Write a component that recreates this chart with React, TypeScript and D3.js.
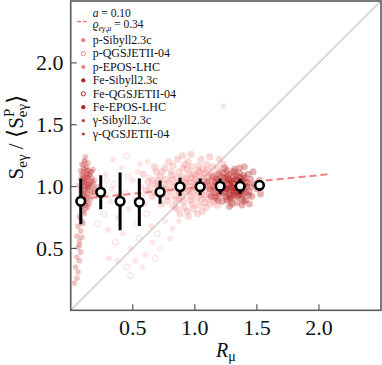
import React from "react";
import * as d3 from "d3";

// ---- data ----
const binR = [0.081, 0.242, 0.398, 0.553, 0.72, 0.881, 1.043, 1.204, 1.365, 1.521];
const binS = [0.881, 0.954, 0.881, 0.873, 0.956, 0.998, 0.998, 1.002, 1.002, 1.01];
const binErr = [0.185, 0.138, 0.233, 0.192, 0.094, 0.074, 0.067, 0.063, 0.06, 0.043];

const fitA = 0.10;
const fitB = 0.892;
const fitRange = [0.16, 2.1];

const xTicks = [0.5, 1.0, 1.5, 2.0];
const yTicks = [0.5, 1.0, 1.5, 2.0];

const legendLabels = [
  "p-Sibyll2.3c", "p-QGSJETII-04", "p-EPOS-LHC",
  "Fe-Sibyll2.3c", "Fe-QGSJETII-04", "Fe-EPOS-LHC",
  "γ-Sibyll2.3c", "γ-QGSJETII-04",
];

// gamma showers (R, S pairs)
const gammaPts = [
  0.10,1.02, 0.12,0.98, 0.09,1.10, 0.14,1.05, 0.11,0.93, 0.13,1.13, 0.08,0.96, 0.15,0.99, 0.10,1.17, 0.12,1.08,
  0.09,0.89, 0.14,0.91, 0.11,1.21, 0.16,1.04, 0.07,1.01, 0.13,0.87, 0.10,0.95, 0.12,1.15, 0.15,1.10, 0.08,1.06,
  0.11,1.00, 0.14,0.97, 0.09,0.84, 0.12,0.90, 0.10,1.12, 0.13,1.01, 0.17,0.95, 0.08,0.92, 0.11,1.07, 0.15,0.86,
  0.09,1.18, 0.12,1.24, 0.14,1.19, 0.10,0.80, 0.13,0.95, 0.11,0.88, 0.16,1.12, 0.07,0.88, 0.12,1.03, 0.14,1.08,
  0.09,0.99, 0.10,1.06, 0.13,1.10, 0.11,0.97, 0.15,1.02, 0.08,1.13, 0.12,0.85, 0.10,0.91, 0.14,1.00, 0.17,1.07,
  0.18,1.02, 0.19,0.98, 0.17,1.12, 0.20,0.93, 0.19,1.05, 0.16,0.90, 0.21,1.00, 0.18,1.14, 0.13,1.16, 0.11,1.04,
  0.07,0.76, 0.09,0.72, 0.06,0.68, 0.08,0.64, 0.10,0.70, 0.05,0.60, 0.07,0.56, 0.09,0.59, 0.06,0.51, 0.08,0.47,
  0.05,0.43, 0.07,0.40, 0.04,0.35, 0.06,0.31, 0.05,0.26, 0.03,0.22, 0.11,0.78, 0.08,0.74, 0.12,0.82, 0.07,0.53,
  0.115,1.05, 0.135,0.99, 0.105,0.94, 0.125,1.11, 0.145,1.02, 0.095,1.03, 0.155,0.94, 0.125,0.92, 0.135,1.07, 0.105,1.14,
  0.165,1.00, 0.145,1.13, 0.085,0.99, 0.115,0.86, 0.175,1.04, 0.095,1.09, 0.155,1.09, 0.135,0.83, 0.115,1.20, 0.185,0.96,
];

// proton showers
const protonPts = [
  0.85,1.02, 0.88,0.95, 0.90,1.08, 0.92,0.99, 0.95,1.04, 0.97,0.92, 0.99,1.10, 1.01,0.97, 1.03,1.03, 1.05,0.94,
  1.07,1.07, 1.09,1.00, 1.11,0.90, 1.13,1.05, 1.15,0.98, 1.17,1.09, 1.19,0.95, 1.21,1.02, 0.87,1.12, 0.91,0.88,
  0.94,1.14, 0.96,1.00, 0.98,0.86, 1.00,1.06, 1.02,0.91, 1.04,1.12, 1.06,1.01, 1.08,0.87, 1.10,1.13, 1.12,0.96,
  1.14,1.01, 1.16,0.91, 1.18,1.04, 1.20,0.99, 1.22,1.08, 0.84,0.93, 0.89,1.05, 0.93,0.96, 0.97,1.07, 1.00,1.00,
  1.04,0.98, 1.08,1.04, 1.12,1.00, 1.16,1.06, 0.86,0.98, 0.90,1.01, 0.95,0.97, 1.01,1.09, 1.06,0.97, 1.11,1.08,
  1.15,0.93, 1.19,1.00, 1.24,0.96, 0.82,1.06, 0.80,0.97, 0.92,1.18, 1.03,1.17, 1.14,1.16, 0.99,0.82, 1.09,0.83,
  0.70,1.00, 0.72,1.08, 0.74,0.93, 0.76,1.15, 0.78,0.88, 0.75,1.02, 0.68,0.95, 0.66,1.05, 0.79,1.20, 0.83,0.84,
  0.86,1.22, 0.94,0.80, 1.05,1.22, 1.18,0.85, 1.26,1.10, 1.28,0.92, 1.23,1.18, 1.30,1.02, 0.81,1.12, 0.77,0.98,
  0.97,1.26, 1.12,1.24, 0.88,0.78, 1.02,0.78, 0.73,0.86, 0.69,1.12, 0.64,0.99, 1.32,0.95, 0.90,1.25, 1.20,1.22,
  0.835,1.00, 0.865,1.07, 0.895,0.92, 0.925,1.03, 0.955,1.10, 0.985,0.95, 1.015,1.02, 1.045,1.08, 1.075,0.93, 1.105,1.03,
  1.135,1.10, 1.165,0.99, 1.195,1.07, 1.225,0.93, 0.875,0.90, 0.905,1.15, 0.935,1.06, 0.965,0.89, 0.995,1.03, 1.025,1.13,
  1.055,0.90, 1.085,1.11, 1.115,0.94, 1.145,1.04, 1.175,0.96, 1.205,1.12, 0.815,1.09, 0.845,0.89, 0.795,1.03, 0.765,1.06,
  0.745,0.98, 0.715,0.94, 0.735,1.12, 0.785,0.92, 0.705,1.05, 0.685,1.02, 0.825,1.17, 0.855,0.82, 0.945,1.20, 1.035,0.85,
  1.095,1.18, 1.155,0.88, 1.245,1.04, 1.275,0.99, 1.255,0.90, 0.915,0.83, 0.975,1.16, 1.065,1.14, 1.125,0.86, 1.185,1.15,
  0.655,0.92, 0.625,1.04, 0.605,0.97, 0.675,1.16, 0.585,1.10, 1.31,1.12, 1.34,1.05, 1.29,0.88, 0.95,0.76, 1.06,0.80,
];

// sparse proton outliers (drawn as open rings and faint dots)
const sparsePts = [
  0.25,0.95, 0.28,1.10, 0.32,0.88, 0.35,1.02, 0.38,0.75, 0.41,1.15, 0.44,0.95, 0.47,0.82, 0.50,1.05, 0.53,0.70,
  0.56,1.18, 0.58,0.92, 0.61,0.78, 0.63,1.08, 0.30,0.65, 0.36,0.55, 0.42,0.62, 0.48,0.50, 0.55,0.58, 0.60,0.45,
  0.34,1.22, 0.45,1.25, 0.52,0.90, 0.40,0.85, 0.27,0.78, 0.62,1.20, 0.57,1.00, 0.22,0.70, 0.65,0.68, 0.66,0.55,
  0.70,0.62, 0.76,0.72, 0.82,0.66, 0.72,0.50, 0.87,0.72, 0.38,0.40, 0.45,0.35, 0.31,0.42, 0.52,0.40, 0.68,0.42,
  0.58,0.35, 0.80,0.58, 0.48,0.28, 1.23,1.65, 0.33,0.98, 0.46,1.08, 0.54,1.12, 0.39,0.93, 0.29,1.05, 0.60,0.86,
];

// iron showers
const ironPts = [
  1.25,1.00, 1.28,0.97, 1.30,1.03, 1.32,0.99, 1.34,1.05, 1.36,0.95, 1.38,1.01, 1.40,0.98, 1.27,1.06, 1.29,0.93,
  1.31,1.08, 1.33,0.96, 1.35,1.02, 1.37,1.07, 1.39,0.94, 1.41,1.04, 1.24,0.95, 1.26,1.03, 1.28,1.10, 1.30,0.91,
  1.32,1.02, 1.34,0.98, 1.36,1.11, 1.38,0.90, 1.40,1.07, 1.42,1.00, 1.23,1.07, 1.25,0.92, 1.27,0.99, 1.29,1.05,
  1.31,0.97, 1.33,1.01, 1.35,0.93, 1.37,1.04, 1.39,1.00, 1.21,1.01, 1.20,0.94, 1.18,1.06, 1.44,0.96, 1.45,1.06,
  1.15,1.00, 1.17,0.91, 1.19,1.10, 1.43,1.10, 1.46,0.92, 1.48,1.02, 1.14,1.08, 1.16,0.95, 1.22,0.88, 1.26,1.13,
  1.34,0.87, 1.41,0.89, 1.47,1.12, 1.50,0.98, 1.12,0.98, 1.36,1.15, 1.30,0.86, 1.24,1.15, 1.44,0.86, 1.52,1.05,
  1.10,1.04, 1.13,0.92, 1.53,0.94, 1.28,0.84, 1.40,1.16, 1.32,1.14, 1.26,0.89, 1.38,0.85,
  1.255,0.98, 1.285,1.02, 1.315,0.95, 1.345,1.00, 1.375,0.97, 1.405,1.02, 1.265,1.08, 1.295,0.99, 1.325,1.06, 1.355,0.97,
  1.385,1.05, 1.415,0.95, 1.235,1.02, 1.275,0.94, 1.305,1.00, 1.335,1.09, 1.365,1.00, 1.395,1.09, 1.425,1.03, 1.245,0.98,
  1.315,1.12, 1.345,0.92, 1.285,0.90, 1.375,0.93, 1.215,0.97, 1.195,1.02, 1.435,0.93, 1.455,1.00, 1.165,1.04, 1.185,0.89,
  1.225,1.11, 1.355,1.08, 1.395,0.88, 1.305,1.04, 1.335,0.99, 1.365,1.03, 1.275,1.04, 1.245,1.07, 1.325,0.93, 1.385,0.98,
];

const toPairs = (a: number[]) => {
  const out: [number, number][] = [];
  for (let i = 0; i + 1 < a.length; i += 2) out.push([a[i], a[i + 1]]);
  return out;
};

const COL_P = "#f08080";
const COL_FE = "#b22222";
const COL_G = "#c23b3b";
const AX = "#5a5a5a";
const FONT = "'Liberation Serif', 'DejaVu Serif', serif";

export default function App() {
  const x = d3.scaleLinear().domain([0, 2.5]).range([70.7, 381]);
  const y = d3.scaleLinear().domain([0, 2.5]).range([310.3, 1]);
  const [x0, x1] = x.range();
  const [y0, y1] = y.range();

  const fitLine = d3.line<number>().x((r) => x(r)).y((r) => y(fitA * r + fitB));

  const legendY0 = 44;
  const legendStep = 13.4;
  const legendStyle = (i: number) => {
    const group = Math.floor(i / 3);
    const color = group === 0 ? COL_P : group === 1 ? COL_FE : COL_G;
    const hollow = legendLabels[i].includes("QGSJET") && group < 2;
    const r = group === 2 ? 1.6 : 2.1;
    return { color, hollow, r };
  };

  return (
    <div style={{ position: "absolute", left: 0, top: 0 }}>
      <svg width={382} height={365} style={{ display: "block" }} fontFamily={FONT}>
        <rect x={0} y={0} width={382} height={365} fill="#fff" />
        <defs>
          <clipPath id="plotclip">
            <rect x={x0} y={y1} width={x1 - x0} height={y0 - y1} />
          </clipPath>
          <filter id="soft" x="-5%" y="-5%" width="110%" height="110%">
            <feGaussianBlur stdDeviation={0.7} />
          </filter>
        </defs>
        <g clipPath="url(#plotclip)">
          {/* diagonal */}
          <line x1={x(0)} y1={y(0)} x2={x(2.5)} y2={y(2.5)} stroke="#cdcdcd" strokeWidth={1.5} />
          {/* scatter */}
          {toPairs(sparsePts).map(([r, s], i) => (
            <circle key={"s" + i} cx={x(r)} cy={y(s)} r={2.8}
              fill={i % 3 === 0 ? "none" : COL_P} fillOpacity={0.2}
              stroke={COL_P} strokeOpacity={i % 3 === 0 ? 0.35 : 0} strokeWidth={0.8} />
          ))}
          <g filter="url(#soft)">
            {toPairs(protonPts).map(([r, s], i) => (
              <circle key={"p" + i} cx={x(r)} cy={y(s)} r={3.6} fill={COL_P} fillOpacity={0.3} />
            ))}
            {toPairs(gammaPts).map(([r, s], i) => (
              <circle key={"g" + i} cx={x(r)} cy={y(s)} r={2.8} fill={COL_G} fillOpacity={0.3} />
            ))}
            {toPairs(ironPts).map(([r, s], i) => (
              <circle key={"f" + i} cx={x(r)} cy={y(s)} r={3.4} fill={COL_FE} fillOpacity={0.34} />
            ))}
          </g>
          {/* fit line */}
          <path d={fitLine(fitRange) || ""} fill="none" stroke={COL_P} strokeWidth={2} strokeDasharray="7,4" />
          {/* binned means */}
          {binR.map((r, i) => (
            <g key={"b" + i}>
              <line x1={x(r)} x2={x(r)} y1={y(binS[i] - binErr[i])} y2={y(binS[i] + binErr[i])}
                stroke="#000" strokeWidth={3} />
              <circle cx={x(r)} cy={y(binS[i])} r={4.3} fill="#fff" stroke="#000" strokeWidth={2.6} />
            </g>
          ))}
        </g>

        {/* frame */}
        <rect x={x0} y={y1} width={x1 - x0} height={y0 - y1} fill="none" stroke={AX} strokeWidth={1.6} />

        {/* ticks */}
        {xTicks.map((t) => (
          <g key={"xt" + t}>
            <line x1={x(t)} x2={x(t)} y1={y0} y2={y0 - 6} stroke={AX} strokeWidth={1.2} />
            <text x={x(t)} y={335} textAnchor="middle" fontSize={22} fill="#111">{t.toFixed(1)}</text>
          </g>
        ))}
        {yTicks.map((t) => (
          <g key={"yt" + t}>
            <line x1={x0} x2={x0 + 6} y1={y(t)} y2={y(t)} stroke={AX} strokeWidth={1.2} />
            <text x={63.5} y={y(t) + 7.5} textAnchor="end" fontSize={22} fill="#111">{t.toFixed(1)}</text>
          </g>
        ))}

        {/* axis labels */}
        <text x={(x0 + x1) / 2} y={357} textAnchor="middle" fontSize={20} fill="#111">
          <tspan fontStyle="italic">R</tspan>
          <tspan fontSize={14} dy={4}>μ</tspan>
        </text>
        <text transform="translate(23,137) rotate(-90)" textAnchor="middle" fontSize={21} fill="#111">
          <tspan>S</tspan>
          <tspan fontSize={15} dy={4}>eγ</tspan>
          <tspan dy={-4}>{" / "}</tspan>
          <tspan fontSize={24} dy={1}>⟨</tspan>
          <tspan dy={-1}>S</tspan>
          <tspan fontSize={15} dy={-9}>P</tspan>
          <tspan fontSize={15} dx={-8.5} dy={13}>eγ</tspan>
          <tspan fontSize={24} dy={-3}>⟩</tspan>
        </text>

        {/* legend */}
        <line x1={77} x2={87} y1={21.5} y2={21.5} stroke={COL_P} strokeWidth={1.6} strokeDasharray="4,2" />
        <text x={92.7} y={16.5} fontSize={11.5} fill="#111">
          <tspan fontStyle="italic">a</tspan>
          <tspan>{" = 0.10"}</tspan>
        </text>
        <text x={92.7} y={28} fontSize={11.5} fill="#111">
          <tspan fontStyle="italic">ϱ</tspan>
          <tspan fontSize={8} dy={2.5} fontStyle="italic">{"eγ,μ"}</tspan>
          <tspan dy={-2.5}>{" = 0.34"}</tspan>
        </text>
        {legendLabels.map((lab, i) => {
          const st = legendStyle(i);
          const ly = legendY0 + i * legendStep;
          return (
            <g key={"lg" + i}>
              <circle cx={83.3} cy={ly - 3.8} r={st.r}
                fill={st.hollow ? "none" : st.color} stroke={st.color} strokeWidth={st.hollow ? 1 : 0} />
              <text x={92.7} y={ly} fontSize={12} fill="#111">{lab}</text>
            </g>
          );
        })}
      </svg>
    </div>
  );
}
